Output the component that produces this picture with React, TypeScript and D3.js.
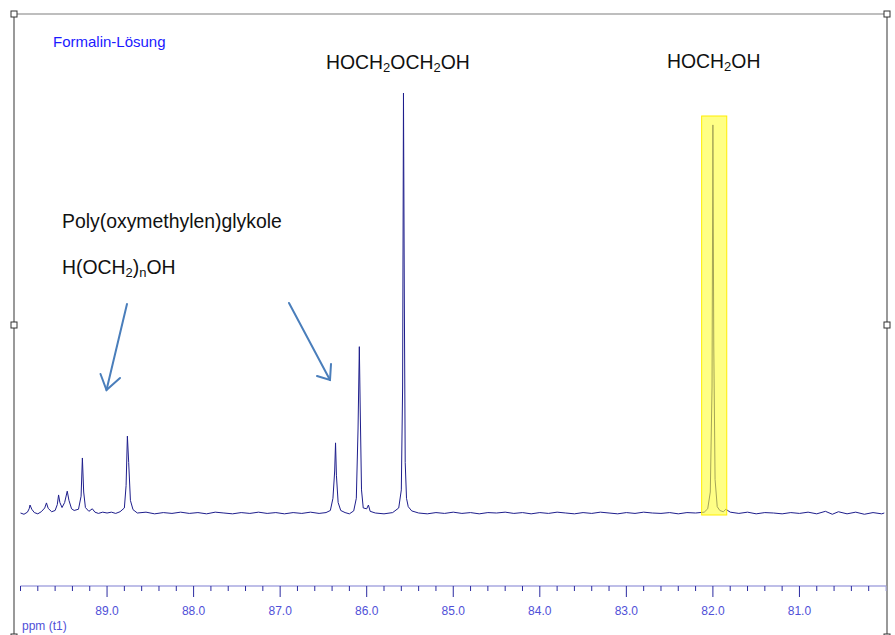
import React from 'react';
import * as d3 from 'd3';

// spectrum samples: [ppm, intensity (tallest = 100)]
const spectrum: [number, number][] = [
  [90.0, 0.0], [89.96, -0.3], [89.92, 0.2], [89.9, 1.0], [89.89, 1.9], [89.87, 0.9],
  [89.84, 0.1], [89.8, -0.2], [89.76, 0.3], [89.72, 1.2], [89.7, 2.4], [89.68, 1.1],
  [89.64, 0.3], [89.6, 0.6], [89.575, 2.0], [89.56, 4.3], [89.545, 2.5], [89.52, 1.3],
  [89.49, 2.5], [89.46, 5.2], [89.44, 3.0], [89.41, 1.0], [89.38, 0.6], [89.33, 0.9],
  [89.3, 4.0], [89.285, 13.1], [89.27, 5.0], [89.25, 1.3], [89.21, 0.4], [89.17, 1.0],
  [89.14, 0.2], [89.1, -0.1], [89.05, 0.2], [89.0, 0.0], [88.95, 0.2], [88.9, -0.1],
  [88.85, 0.3], [88.8, 1.2], [88.78, 6.5], [88.765, 18.3], [88.75, 12.0], [88.73, 3.0],
  [88.7, 0.8], [88.65, 0.0], [88.55, 0.2], [88.45, -0.2], [88.35, 0.1], [88.25, -0.1],
  [88.15, 0.2], [88.05, -0.1], [87.95, 0.1], [87.85, -0.2], [87.75, 0.2], [87.65, 0.0],
  [87.55, -0.2], [87.45, 0.1], [87.35, -0.1], [87.25, 0.2], [87.15, -0.1], [87.05, 0.1],
  [86.95, -0.2], [86.85, 0.1], [86.75, -0.1], [86.65, 0.2], [86.55, -0.1], [86.47, 0.1],
  [86.42, 0.6], [86.39, 3.5], [86.37, 10.0], [86.36, 16.7], [86.35, 9.0], [86.33, 2.5],
  [86.3, 0.6], [86.25, 0.1], [86.2, -0.2], [86.15, 0.5], [86.12, 3.5], [86.1, 20.0],
  [86.085, 39.6], [86.075, 25.0], [86.06, 5.5], [86.04, 1.2], [86.0, 1.0], [85.98, 1.9],
  [85.96, 0.4], [85.9, 0.0], [85.8, -0.2], [85.7, 0.1], [85.63, 1.2], [85.6, 5.5],
  [85.585, 30.0], [85.575, 100.0], [85.565, 50.0], [85.555, 12.0], [85.54, 3.5],
  [85.52, 1.5], [85.48, 0.5], [85.4, 0.0], [85.3, -0.2], [85.2, 0.1], [85.1, -0.1],
  [85.0, 0.2], [84.9, -0.1], [84.8, 0.1], [84.7, -0.2], [84.6, 0.1], [84.5, 0.0],
  [84.4, 0.2], [84.3, -0.1], [84.2, 0.1], [84.1, -0.2], [84.0, 0.1], [83.9, -0.1],
  [83.8, 0.2], [83.7, 0.0], [83.6, -0.2], [83.5, 0.1], [83.4, -0.1], [83.3, 0.2],
  [83.2, 0.0], [83.1, -0.2], [83.0, 0.1], [82.9, -0.1], [82.8, 0.2], [82.7, 0.0],
  [82.6, -0.1], [82.5, 0.1], [82.4, -0.2], [82.3, 0.1], [82.2, 0.0], [82.1, 0.2],
  [82.06, 1.0], [82.03, 5.0], [82.01, 30.0], [82.0, 92.4], [81.99, 40.0], [81.975, 8.0],
  [81.95, 1.5], [81.92, 0.6], [81.88, 0.3], [81.85, 0.9], [81.8, 0.2], [81.7, -0.1],
  [81.6, 0.2], [81.5, -0.2], [81.4, 0.1], [81.3, 0.0], [81.2, -0.2], [81.1, 0.1],
  [81.0, -0.1], [80.9, 0.2], [80.8, -0.2], [80.7, 0.4], [80.62, -0.3], [80.55, 0.3],
  [80.45, -0.2], [80.35, 0.2], [80.25, -0.3], [80.15, 0.1], [80.05, -0.2], [80.02, 0.0],
];

const axisLabels = [89, 88, 87, 86, 85, 84, 83, 82, 81];
const highlight = { from: 82.13, to: 81.84 };

const W = 895;
const H = 635;

const App = () => {
  const x = d3.scaleLinear().domain([90, 80]).range([20.5, 886]);
  const y = d3.scaleLinear().domain([0, 100]).range([513, 93]);

  const line = d3.line<[number, number]>()
    .x(d => x(d[0]))
    .y(d => y(d[1]));

  const minor = x.ticks(50);
  const axisY = 586;
  const font = 'Liberation Sans, Arial, sans-serif';
  const arrow = '#4a7ebb';

  const handles = [[14, 14], [887, 14], [14, 325], [887, 325], [14, 637], [887, 637]];

  return (
    <svg width={W} height={H} style={{ position: 'absolute', left: 0, top: 0, background: '#fff' }}>
      {/* frame */}
      <line x1={14} y1={14} x2={887} y2={14} stroke="#a8a8a8" strokeWidth={1.5} />
      <line x1={14} y1={14} x2={14} y2={H} stroke="#777" strokeWidth={1.5} />
      <line x1={887} y1={14} x2={887} y2={H} stroke="#777" strokeWidth={1.5} />
      {handles.map(([hx, hy], i) => (
        <rect key={i} x={hx - 3} y={hy - 3} width={6} height={6} fill="#fff" stroke="#333" strokeWidth={1} />
      ))}

      <text x={53} y={47} fill="#1a1aff" fontFamily={font} fontSize={15}>Formalin-Lösung</text>

      {/* spectrum */}
      <path d={line(spectrum) || ''} fill="none" stroke="#1e1e8c" strokeWidth={1} />
      <rect x={x(highlight.from)} y={116} width={x(highlight.to) - x(highlight.from)} height={399}
        fill="#ffff33" fillOpacity={0.6} stroke="#ffee00" strokeWidth={1} />

      {/* axis */}
      <line x1={x(90)} y1={axisY} x2={x(80)} y2={axisY} stroke="#a8a8e0" strokeWidth={1.5} />
      {minor.map((t, i) => {
        const major = Math.abs(t - Math.round(t)) < 1e-6 && t > 80 && t < 90;
        return (
          <line key={i} x1={x(t)} x2={x(t)} y1={axisY} y2={axisY + (major ? 11 : 5)}
            stroke={t <= 80.01 ? '#a8a8e0' : '#2a2aa0'} strokeWidth={1} />
        );
      })}
      {axisLabels.map(t => (
        <text key={t} x={x(t)} y={615} textAnchor="middle" fill="#5050d8" fontFamily={font} fontSize={12}>
          {t.toFixed(1)}
        </text>
      ))}
      <text x={22} y={630} fill="#5050d8" fontFamily={font} fontSize={12}>ppm (t1)</text>

      {/* annotations */}
      <text x={326} y={69} fontFamily={font} fontSize={19.4} fill="#111">
        HOCH<tspan fontSize={13} dy={3}>2</tspan><tspan dy={-3}>OCH</tspan><tspan fontSize={13} dy={3}>2</tspan><tspan dy={-3}>OH</tspan>
      </text>
      <text x={667} y={68} fontFamily={font} fontSize={19.4} fill="#111">
        HOCH<tspan fontSize={13} dy={3}>2</tspan><tspan dy={-3}>OH</tspan>
      </text>
      <text x={62} y={228} fontFamily={font} fontSize={19.4} fill="#111">Poly(oxymethylen)glykole</text>
      <text x={62} y={274} fontFamily={font} fontSize={19.4} fill="#111">
        H(OCH<tspan fontSize={13} dy={3}>2</tspan><tspan dy={-3}>)</tspan><tspan fontSize={13} dy={3}>n</tspan><tspan dy={-3}>OH</tspan>
      </text>

      <g stroke={arrow} strokeWidth={2} fill="none" strokeLinecap="round">
        <line x1={127} y1={304} x2={106.5} y2={390} />
        <polyline points="100.5,374 106.5,390 120,378" />
        <line x1={289} y1={303} x2={330} y2={380} />
        <polyline points="317,376 330,380 331,364" />
      </g>
    </svg>
  );
};

export default App;
